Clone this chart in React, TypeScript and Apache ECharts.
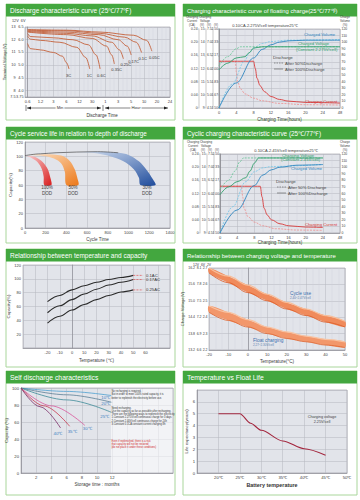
import { useEffect, useRef } from 'react';
import * as echarts from 'echarts';

const FONT = 'Liberation Sans, Arial, sans-serif';

// ---------- titles ----------
const panelTitles = [
  'Discharge characteristic curve (25℃/77℉)',
  'Charging characteristic curve of floating charge(25℃/77℉)',
  'Cycle service life in relation to depth of discharge',
  'Cyclic charging characteristic curve (25℃/77℉)',
  'Relationship between temperature and capacity',
  'Relationship between charging voltage and temperature',
  'Self discharge characteristics',
  'Temperature vs Float Life',
];

// ---------- Panel 1: discharge characteristic ----------
const p1TimeLabels = ['0.6', '1.2', '3', '6', '12', '30', '1', '3', '5', '10', '20', '24'];
const p1VoltTicks = [7.5, 8, 9, 10, 11, 12, 13];
const p1Volt12Labels = ['7.5', '8', '9', '10', '11', '12', '13'];
const p1Volt6Labels = ['3.75', '4.0', '4.5', '5.0', '5.5', '6.0', '6.5'];
const p1RateNames = ['3C', '1C', '0.6C', '0.35C', '0.25C', '0.17C', '0.1C', '0.05C'];
const p1Curve3C = [[0, 11.7], [0.2, 11.3], [1, 11.2], [2, 11.0], [2.7, 10.7], [3.0, 10.2], [3.2, 9.7]];
const p1Curve1C = [[0, 12.3], [0.2, 12.05], [1, 11.95], [2.5, 11.8], [3.8, 11.4], [4.5, 10.6], [4.8, 9.7]];
const p1Curve06C = [[0, 12.5], [0.2, 12.25], [2, 12.15], [3.5, 12.0], [4.7, 11.6], [5.3, 10.8], [5.6, 9.7]];
const p1Curve035C = [[0, 12.6], [3, 12.4], [5, 12.1], [6.1, 11.5], [6.5, 10.8], [6.7, 10.1]];
const p1Curve025C = [[0, 12.65], [3, 12.5], [5, 12.3], [6.5, 11.8], [7.1, 11.2], [7.4, 10.5]];
const p1Curve017C = [[0, 12.7], [3, 12.6], [5.5, 12.4], [7, 12.0], [7.7, 11.5], [8.0, 10.8]];
const p1Curve01C = [[0, 12.75], [3, 12.7], [5.6, 12.5], [7.5, 12.2], [8.4, 11.8], [8.8, 11.0]];
const p1Curve005C = [[0, 12.8], [3, 12.75], [5.6, 12.6], [8.2, 12.35], [9.2, 11.95], [9.6, 11.1]];

// ---------- Panels 2 & 4: charging curves ----------
const chgXLabels = ['0', '4', '8', '12', '16', '20', '24', '48'];
const chgCurrentLabels = ['0', '0.04', '0.08', '0.12', '0.16', '0.20', '0.24'];
const chgVolt12Labels = ['9', '10', '11', '12', '13', '14', '15'];
const chgVolt6Labels = ['4.5', '5.0', '5.5', '6.0', '6.5', '7.0', '7.5'];
const chgVolt2Labels = ['1.50', '1.67', '1.83', '2.00', '2.17', '2.33', '2.50'];

const floatVoltAfter100 = [[0, 11.9], [2, 12.4], [4, 12.8], [6, 12.9], [7, 13.2], [8, 13.55], [10, 13.65], [28, 13.65]];
const floatVoltAfter50 = [[0, 12.2], [2, 12.9], [4, 13.5], [5, 13.65], [28, 13.65]];
const floatVolumeAfter100 = [[0, 0], [4, 38], [8, 76], [10, 89], [12, 96], [14, 100], [16, 102], [20, 103], [28, 103]];
const floatVolumeAfter50 = [[0, 0], [3, 36], [6, 72], [7, 84], [8, 91], [10, 98], [12, 101], [16, 103], [28, 104]];
const floatCurrentAfter100 = [[0, 0.142], [8, 0.142], [8.4, 0.12], [8.8, 0.09], [9.5, 0.068], [10.5, 0.05], [12, 0.035], [14, 0.026], [16, 0.021], [20, 0.017], [28, 0.015]];
const floatCurrentAfter50 = [[0, 0.142], [3.8, 0.142], [4, 0.11], [4.3, 0.08], [5, 0.058], [6, 0.043], [8, 0.03], [10, 0.022], [14, 0.014], [20, 0.01], [28, 0.009]];

const cycVoltAfter100 = [[0, 11.9], [2, 12.5], [4, 12.9], [6, 13.2], [7, 13.7], [8, 14.3], [9, 14.7], [24, 14.7]];
const cycVoltAfter50 = [[0, 12.3], [2, 13.0], [3.5, 13.7], [4.6, 14.4], [5.5, 14.7], [24, 14.7]];
const cycVolumeAfter100 = [[0, 0], [4, 35], [8, 72], [10, 88], [12, 96], [14, 100], [18, 103], [24, 104]];
const cycVolumeAfter50 = [[0, 0], [3, 40], [6, 78], [8, 93], [10, 99], [12, 101], [24, 104]];
const cycCurrentAfter100 = [[0, 0.142], [9.4, 0.142], [9.8, 0.11], [10.3, 0.075], [11, 0.055], [12, 0.04], [14, 0.028], [16, 0.022], [20, 0.018], [24, 0.017]];
const cycCurrentAfter50 = [[0, 0.142], [5, 0.142], [5.3, 0.11], [5.6, 0.075], [6.5, 0.05], [8, 0.033], [10, 0.022], [13, 0.013], [18, 0.009], [24, 0.008]];

// ---------- Panel 3: cycle life ----------
const p3Baseline = [[0, 101], [150, 103.5], [300, 105], [500, 106], [700, 106.5], [900, 105]];
const p3Dod100Outer = [[0, 101], [100, 99], [170, 92], [220, 82], [245, 70], [255, 60]];
const p3Dod100Inner = [[0, 101], [60, 98], [120, 92], [160, 83], [180, 72], [187, 60]];
const p3Dod50Outer = [[20, 102], [200, 103], [350, 101], [430, 94], [480, 82], [505, 70], [515, 60]];
const p3Dod50Inner = [[20, 102], [150, 101], [280, 97], [350, 90], [385, 78], [400, 60]];
const p3Dod30Outer = [[450, 106], [700, 106.5], [900, 105], [1000, 102], [1100, 93], [1180, 80], [1230, 69], [1260, 60]];
const p3Dod30Inner = [[450, 106], [650, 105], [800, 101], [950, 93], [1050, 82], [1100, 70], [1115, 60]];
const p3DodLabels = ['100%\nDOD', '50%\nDOD', '30%\nDOD'];

// ---------- Panel 5: temperature vs capacity ----------
const p5Temps = [-20, -10, 0, 10, 20, 30, 40, 50];
const p5Cap01 = [67, 76, 84, 90, 95, 99, 102, 105];
const p5Cap017 = [51, 61, 70, 78, 85, 91, 95, 99];
const p5Cap025 = [36, 46, 55, 63, 70, 76, 81, 84];
const p5Rates = ['0.1AC', '0.17AC', '0.25AC'];

// ---------- Panel 6: charging voltage vs temperature ----------
const p6Temps = [-20, -10, 0, 10, 20, 30, 40, 50];
const p6CycleUpper = [2.7, 2.65, 2.595, 2.54, 2.49, 2.45, 2.41, 2.375];
const p6CycleLower = [2.67, 2.61, 2.55, 2.5, 2.45, 2.41, 2.37, 2.34];
const p6FloatUpper = [2.47, 2.43, 2.385, 2.34, 2.31, 2.285, 2.265, 2.25];
const p6FloatLower = [2.43, 2.38, 2.34, 2.3, 2.27, 2.25, 2.23, 2.215];
const p6Volt12Labels = ['13.2', '13.8', '14.4', '15.0', '15.6', '16.2'];
const p6Volt6Labels = ['6.6', '6.9', '7.2', '7.5', '7.8', '8.1'];
const p6Volt2Labels = ['2.2', '2.3', '2.4', '2.5', '2.6', '2.7'];

// ---------- Panel 7: self discharge ----------
const p7Labels = ['10℃', '20℃', '25℃', '30℃', '35℃', '40℃'];
const p7At10 = [[0, 100], [6, 96], [12, 91]];
const p7At20 = [[0, 100], [6, 92], [12, 83]];
const p7At25 = [[0, 100], [6, 86], [12, 71]];
const p7At30 = [[0, 100], [4, 79], [8.4, 56]];
const p7At35 = [[0, 100], [3, 79], [6.4, 55]];
const p7At40 = [[0, 100], [2.5, 78], [5.2, 53]];
const p7Note1 = ['No recharging is required.', 'But in order to meet 100% rated capacity, it is', 'better to replenish the electricity before use.'];
const p7Note2 = ['Need recharging.', 'Use the capacity as far as possible after recharging.', 'There are the following ways to replenish the electricity', '1.Constant 2.275V/cell continuous charge for 3 days', '2.Constant 2.40V/cell continuous charge for 24h', '3.Constant 0.1CA constant current charging 8h'];
const p7Note3 = ['Even if replenished, there is a risk', 'that capacity will not be restored', '(do not place it under these conditions)'];

// ---------- Panel 8: float life ----------
const p8Temps = [20, 25, 27.5, 30, 35, 40, 45];
const p8Life = [5, 5, 4.2, 3.6, 2.7, 2.05, 1.5];

const PLOT_BG = '#e2e4ea';
const SPLIT = '#b4b6bf';
const MINOR = '#cfd1d8';
const AXIS = '#85858d';
const TXT = '#3c3c3c';
const GREEN = '#43a73f';
const FRAME = '#a9d69b';

function buildOption() {
  const grid: any[] = [];
  const xAxis: any[] = [];
  const yAxis: any[] = [];
  const series: any[] = [];
  const graphic: any[] = [];
  const ts = (size: number, color = TXT, extra: any = {}) => ({ fontSize: size, color, fontFamily: FONT, ...extra });

  const addGrid = (left: number, top: number, width: number, height: number) => {
    grid.push({ left, top, width, height, show: true, backgroundColor: PLOT_BG, borderColor: AXIS, borderWidth: 0.5 });
    return grid.length - 1;
  };
  const addX = (o: any) => {
    xAxis.push({
      type: 'value',
      axisLine: { show: true, lineStyle: { color: AXIS, width: 0.6 } },
      axisTick: { show: false },
      splitLine: { show: true, lineStyle: { color: SPLIT, width: 0.5 } },
      ...o,
      axisLabel: { fontSize: 4, color: TXT, fontFamily: FONT, margin: 2, formatter: (v: number) => String(v), ...(o.axisLabel || {}) },
    });
    return xAxis.length - 1;
  };
  const addY = (o: any) => {
    yAxis.push({
      type: 'value',
      position: 'left',
      axisLine: { show: true, lineStyle: { color: AXIS, width: 0.6 } },
      axisTick: { show: false },
      splitLine: { show: true, lineStyle: { color: SPLIT, width: 0.5 } },
      ...o,
      axisLabel: { fontSize: 4, color: TXT, fontFamily: FONT, margin: 2, formatter: (v: number) => String(v), ...(o.axisLabel || {}) },
    });
    return yAxis.length - 1;
  };
  const addLine = (xi: number, yi: number, data: any[], color: string, width: number, dashed = false, extra: any = {}) => {
    series.push({
      type: 'line', xAxisIndex: xi, yAxisIndex: yi, data, symbol: 'none', smooth: 0.35, smoothMonotone: 'x',
      lineStyle: { color, width, type: dashed ? [2, 1.2] : 'solid' }, silent: true, z: 3, ...extra,
    });
  };
  const addBand = (xi: number, yi: number, outer: number[][], inner: number[][], fill: any) => {
    series.push({
      type: 'custom', coordinateSystem: 'cartesian2d', xAxisIndex: xi, yAxisIndex: yi, silent: true, z: 2,
      data: [[outer[0][0], outer[0][1]]],
      renderItem: (_p: any, api: any) => ({
        type: 'polygon',
        shape: { points: [...outer, ...inner.slice().reverse()].map((p) => api.coord(p)), smooth: 0.3 },
        style: { fill },
      }),
    });
  };
  const gText = (x: number, y: number, text: string, size: number, color = TXT, extra: any = {}) => {
    graphic.push({
      type: 'text', x, y, z: 50, silent: true,
      style: { text, fontSize: size, fill: color, fontFamily: FONT, align: 'left', textAlign: 'left', verticalAlign: 'middle', textVerticalAlign: 'middle', ...extra },
    });
  };
  const gLine = (x1: number, y1: number, x2: number, y2: number, color: string, width: number, dash?: number[]) => {
    graphic.push({ type: 'line', z: 50, silent: true, shape: { x1, y1, x2, y2 }, style: { stroke: color, lineWidth: width, lineDash: dash } });
  };
  const gPoly = (points: number[][], color: string) => {
    graphic.push({ type: 'polygon', z: 50, silent: true, shape: { points }, style: { fill: color } });
  };

  // ---- panel frames & titles ----
  const frames = [
    [6, 4, 169, 116, 6.5], [183, 4, 174, 116, 5.8],
    [6, 127, 169, 116, 6.3], [183, 127, 174, 116, 6.4],
    [6, 249, 169, 118, 6.5], [183, 249, 174, 118, 6.0],
    [6, 371, 169, 124, 6.8], [183, 371, 174, 124, 6.8],
  ];
  frames.forEach(([x, y, w, h, fs], i) => {
    graphic.push({ type: 'rect', z: -5, silent: true, shape: { x, y, width: w, height: h }, style: { fill: '#fff', stroke: FRAME, lineWidth: 1 } });
    graphic.push({ type: 'rect', z: -4, silent: true, shape: { x, y, width: w, height: 12.5 }, style: { fill: GREEN } });
    gText(x + 4, y + 6.5, panelTitles[i], fs, '#fff');
  });

  // ================= Panel 1 =================
  {
    const g = addGrid(25, 27, 145, 70);
    const xi = addX({
      gridIndex: g, min: -0.2, max: 11, splitNumber: 11,
      minorTick: { show: false, splitNumber: 3 }, minorSplitLine: { show: true, lineStyle: { color: MINOR, width: 0.4 } },
      axisLabel: { fontSize: 4, formatter: (v: number) => (Number.isInteger(v) && v >= 0 ? p1TimeLabels[v] : '') },
    });
    const lbl = (arr: string[]) => (v: number) => {
      const i = p1VoltTicks.indexOf(v);
      return i < 0 ? '' : arr[i];
    };
    const yi = addY({ gridIndex: g, min: 7.5, max: 13, splitNumber: 5, axisLabel: { fontSize: 3.8, margin: 1.5, formatter: lbl(p1Volt6Labels) } });
    addY({
      gridIndex: g, min: 7.5, max: 13, splitNumber: 5, offset: 8, axisLine: { show: false }, splitLine: { show: false },
      axisLabel: { fontSize: 3.8, margin: 1.5, formatter: lbl(p1Volt12Labels) },
      name: 'Terminal Voltage(V)', nameLocation: 'middle', nameRotate: 90, nameGap: 9, nameTextStyle: ts(4.2),
    });
    const curves = [p1Curve3C, p1Curve1C, p1Curve06C, p1Curve035C, p1Curve025C, p1Curve017C, p1Curve01C, p1Curve005C];
    curves.forEach((c, i) => {
      addLine(xi, yi, c, '#c4623c', 0.9, false, {
        name: p1RateNames[i],
        endLabel: { show: true, formatter: '{a}', distance: 0, offset: [-3, 6], ...ts(4, '#333') },
      });
    });
    gText(12, 21, '12V  6V', 3.8);
    // time arrows
    gLine(26, 105, 26, 111, '#333', 0.6);
    gLine(27, 108, 101, 108, '#333', 0.6);
    gPoly([[27, 108], [31, 106.4], [31, 109.6]], '#222');
    gPoly([[101, 108], [97, 106.4], [97, 109.6]], '#222');
    gLine(103, 105, 103, 111, '#333', 0.6);
    gLine(105, 108, 168, 108, '#333', 0.6);
    gPoly([[105, 108], [109, 106.4], [109, 109.6]], '#222');
    gPoly([[168, 108], [164, 106.4], [164, 109.6]], '#222');
    gText(60, 107, 'Min', 4.2, '#333', { align: 'center', textAlign: 'center', backgroundColor: '#fff', padding: [0, 1] });
    gText(136, 107, 'Hour', 4.2, '#333', { align: 'center', textAlign: 'center', backgroundColor: '#fff', padding: [0, 1] });
    gText(102, 115, 'Discharge Time', 4.5, '#333', { align: 'center', textAlign: 'center' });
  }

  // ================= Panels 2 & 4 =================
  const VOLT = '#2f9e6a', VOLT_D = '#62c493';
  const VOLUME = '#2f86c0', VOLUME_D = '#72c6e8';
  const CURR = '#d83a3a', CURR_D = '#ee8e8e';
  const buildCharging = (gx: number, gy: number, gw: number, gh: number, d: any) => {
    const g = addGrid(gx, gy, gw, gh);
    const xi = addX({
      gridIndex: g, min: 0, max: 28, interval: 4,
      minorTick: { show: false, splitNumber: 2 }, minorSplitLine: { show: true, lineStyle: { color: MINOR, width: 0.4 } },
      axisLabel: { fontSize: 4, formatter: (v: number) => chgXLabels[Math.round(v / 4)] ?? '' },
      name: 'Charging Time(hours)', nameLocation: 'middle', nameGap: d.nameGap, nameTextStyle: ts(4.6),
    });
    const yPct = addY({ gridIndex: g, position: 'right', min: 0, max: 120, interval: 10, axisLabel: { fontSize: 3.4, margin: 1.5 } });
    const yVolt = addY({ gridIndex: g, show: false, min: 9, max: 15, splitLine: { show: false } });
    const yCur = addY({ gridIndex: g, show: false, min: 0, max: 0.24, splitLine: { show: false } });
    const cols = [chgVolt2Labels, chgVolt6Labels, chgVolt12Labels, chgCurrentLabels];
    const offs = [0, 6.5, 13.5, 20.5];
    cols.forEach((arr, i) => {
      addY({
        gridIndex: g, offset: offs[i], min: 0, max: 6, interval: 1, splitLine: { show: false },
        axisLine: { show: true, lineStyle: { color: '#777', width: 0.4 } },
        axisTick: { show: true, length: 1, lineStyle: { color: '#777', width: 0.4 } },
        axisLabel: { fontSize: 3.3, margin: 1, formatter: (v: number) => arr[v] ?? '' },
      });
    });
    addLine(xi, yCur, d.curD, CURR_D, 0.8, true);
    addLine(xi, yCur, d.cur, CURR, 0.9);
    addLine(xi, yPct, d.volD, VOLUME_D, 0.8, true);
    addLine(xi, yPct, d.vol, VOLUME, 0.9);
    addLine(xi, yVolt, d.voltD, VOLT_D, 0.8, true);
    addLine(xi, yVolt, d.volt, VOLT, 0.9);

    const top = gy - 12; // header row
    gText(gx - 27, top, 'Charging', 3, TXT, { align: 'center', textAlign: 'center' });
    gText(gx - 27, top + 3.5, 'Current', 3, TXT, { align: 'center', textAlign: 'center' });
    gText(gx - 27, top + 7.5, '(CA)', 3, TXT, { align: 'center', textAlign: 'center' });
    gText(gx - 14, top, 'Charging', 3, TXT, { align: 'center', textAlign: 'center' });
    gText(gx - 14, top + 3.5, 'Voltage', 3, TXT, { align: 'center', textAlign: 'center' });
    gText(gx - 17, top + 7.5, '(V)', 3, TXT, { align: 'center', textAlign: 'center' });
    gText(gx - 10, top + 7.5, '(V)', 3, TXT, { align: 'center', textAlign: 'center' });
    gText(gx - 3, top + 7.5, '(V)', 3, TXT, { align: 'center', textAlign: 'center' });
    gText(gx + gw + 5, top, 'Charge', 3, TXT, { align: 'center', textAlign: 'center' });
    gText(gx + gw + 5, top + 3.5, 'Volume', 3, TXT, { align: 'center', textAlign: 'center' });
    gText(gx + gw + 5, top + 7.5, '(%)', 3, TXT, { align: 'center', textAlign: 'center' });
    gText(d.headX, gy - 3.5, d.header, 4, TXT, { align: 'center', textAlign: 'center' });
    d.texts.forEach((t: any) => gText(t[0], t[1], t[2], 4.2, t[3]));
    const [lx, ly] = d.legend;
    gText(lx, ly, 'Discharge', 4.4, '#444');
    gLine(lx + 1, ly + 6, lx + 10, ly + 6, '#555', 0.6, [1.5, 1]);
    gText(lx + 12, ly + 6, d.leg50, 4.2, '#444');
    gLine(lx + 1, ly + 12, lx + 10, ly + 12, '#555', 0.6);
    gText(lx + 12, ly + 12, 'After 100%Discharge', 4.2, '#444');
  };

  buildCharging(219, 29, 121, 79, {
    nameGap: 8.5, headX: 265, header: '0.10CA-2.275V/cell temperature25℃',
    volt: floatVoltAfter100, voltD: floatVoltAfter50, vol: floatVolumeAfter100, volD: floatVolumeAfter50,
    cur: floatCurrentAfter100, curD: floatCurrentAfter50,
    texts: [[304, 34, 'Charged Volume', VOLUME], [298, 43.5, 'Charged Voltage', VOLT], [296, 49, '(Constant 2.275V/cell)', VOLT], [305, 101, 'Charging Current', CURR]],
    legend: [273, 57], leg50: 'After 50%Discharge',
  });
  buildCharging(220, 154, 120, 79, {
    nameGap: 6.5, headX: 286, header: '0.10CA-2.45V/cell temperature25℃',
    volt: cycVoltAfter100, voltD: cycVoltAfter50, vol: cycVolumeAfter100, volD: cycVolumeAfter50,
    cur: cycCurrentAfter100, curD: cycCurrentAfter50,
    texts: [[282, 155, 'Charging Voltage', VOLT], [281, 159.5, '(Constant 2.45V/cell)', VOLT], [291, 168, 'Charged Volume', VOLUME], [305, 224, 'Charging Current', CURR]],
    legend: [276, 181], leg50: 'After 50% Discharge',
  });

  // ================= Panel 3 =================
  {
    const g = addGrid(25, 142, 145, 86);
    const xi = addX({ gridIndex: g, min: 0, max: 1400, interval: 200, name: 'Cycle Time', nameLocation: 'middle', nameGap: 8.5, nameTextStyle: ts(4.6) });
    const yi = addY({ gridIndex: g, min: 0, max: 120, interval: 20, name: 'Capacity(%)', nameLocation: 'middle', nameRotate: 90, nameGap: 11, nameTextStyle: ts(4.4) });
    const grad = (a: string, b: string) => new echarts.graphic.LinearGradient(0, 0, 1, 1, [{ offset: 0, color: a }, { offset: 1, color: b }]);
    addBand(xi, yi, p3Dod30Outer, p3Dod30Inner, grad('#dbe6f5', '#1f4c9c'));
    addBand(xi, yi, p3Dod50Outer, p3Dod50Inner, grad('#fde4c8', '#ec7818'));
    addBand(xi, yi, p3Dod100Outer, p3Dod100Inner, grad('#fbd3d3', '#d81c1c'));
    addLine(xi, yi, p3Baseline, '#333', 0.6);
    gText(47, 190, p3DodLabels[0], 4.6, '#444', { align: 'center', textAlign: 'center', lineHeight: 6 });
    gText(73, 190, p3DodLabels[1], 4.6, '#444', { align: 'center', textAlign: 'center', lineHeight: 6 });
    gText(147, 190, p3DodLabels[2], 4.6, '#444', { align: 'center', textAlign: 'center', lineHeight: 6 });
  }

  // ================= Panel 5 =================
  {
    const g = addGrid(23, 265, 147, 83);
    const xi = addX({
      gridIndex: g, min: -40, max: 80, interval: 10,
      axisLabel: { fontSize: 4, formatter: (v: number) => (v >= -20 && v <= 60 ? String(v) : '') },
      name: 'Temperature (℃)', nameLocation: 'middle', nameGap: 9.5, nameTextStyle: ts(4.6),
    });
    const yi = addY({
      gridIndex: g, min: 0, max: 120, interval: 20, axisLabel: { fontSize: 4, formatter: (v: number) => (v === 0 ? '' : String(v)) },
      name: 'Capacity(%)', nameLocation: 'middle', nameRotate: 90, nameGap: 10, nameTextStyle: ts(4.4),
    });
    [p5Cap01, p5Cap017, p5Cap025].forEach((arr, i) => {
      addLine(xi, yi, p5Temps.map((t, k) => [t, arr[k]]), '#2a2a2a', 1.1);
      const last = arr[arr.length - 1];
      addLine(xi, yi, [[50, last], [58, last]], '#e05050', 0.7, true, {
        smooth: false, name: p5Rates[i],
        endLabel: { show: true, formatter: '{a}', distance: 0, offset: [3, 0], ...ts(4.2, '#333') },
      });
    });
  }

  // ================= Panel 6 =================
  {
    const g = addGrid(209, 268, 136, 82);
    const xi = addX({
      gridIndex: g, min: -20, max: 50, interval: 10,
      minorTick: { show: false, splitNumber: 3 }, minorSplitLine: { show: true, lineStyle: { color: MINOR, width: 0.4 } },
      name: 'Temperature(°C)', nameLocation: 'middle', nameGap: 9, nameTextStyle: ts(4.6),
    });
    const yi = addY({
      gridIndex: g, min: 2.2, max: 2.7, interval: 0.1,
      axisLabel: { fontSize: 3.5, margin: 1.5, formatter: (v: number) => p6Volt2Labels[Math.round((v - 2.2) * 10)] ?? '' },
    });
    addY({
      gridIndex: g, min: 0, max: 5, interval: 1, offset: 6, axisLine: { show: false }, splitLine: { show: false },
      axisLabel: { fontSize: 3.5, margin: 1.5, formatter: (v: number) => p6Volt6Labels[v] ?? '' },
    });
    addY({
      gridIndex: g, min: 0, max: 5, interval: 1, offset: 12.5, axisLine: { show: false }, splitLine: { show: false },
      axisLabel: { fontSize: 3.5, margin: 1.5, formatter: (v: number) => p6Volt12Labels[v] ?? '' },
      name: 'Charge Voltage(V)', nameLocation: 'middle', nameRotate: 90, nameGap: 9, nameTextStyle: ts(4.2),
    });
    const zip = (vals: number[]) => p6Temps.map((t, k) => [t, vals[k]]);
    addBand(xi, yi, zip(p6CycleUpper), zip(p6CycleLower), '#f08b5c');
    addBand(xi, yi, zip(p6FloatUpper), zip(p6FloatLower), '#f2976b');
    addLine(xi, yi, zip(p6CycleUpper), '#f8bd98', 1.2);
    addLine(xi, yi, zip(p6CycleLower), '#dc5a26', 0.8);
    addLine(xi, yi, zip(p6FloatUpper), '#f8c3a2', 1.2);
    addLine(xi, yi, zip(p6FloatLower), '#de6430', 0.8);
    gText(193, 265, '12V  6V  2V', 3.4);
    gText(290, 293, 'Cycle use', 4.8, '#3a6fae');
    gText(290, 298, '2.40~2.47V/cell', 3, '#5a80b0');
    gText(253, 340, 'Float charging', 4.8, '#3a6fae');
    gText(253, 344.5, '2.27~2.30V/cell', 3, '#5a80b0');
  }

  // ================= Panel 7 =================
  {
    const g = addGrid(21, 388, 152, 85);
    const xi = addX({
      gridIndex: g, min: 0, max: 20, interval: 2,
      axisLabel: { fontSize: 4.2, formatter: (v: number) => (v > 0 && v <= 12 ? String(v) : '') },
      name: 'Storage time : months', nameLocation: 'middle', nameGap: 9, nameTextStyle: ts(4.6),
    });
    const yi = addY({
      gridIndex: g, min: 0, max: 100, interval: 20, axisLabel: { fontSize: 4.2 },
      name: 'Capacity (%)', nameLocation: 'middle', nameRotate: 90, nameGap: 9, nameTextStyle: ts(4.4),
    });
    const lines = [p7At10, p7At20, p7At25, p7At30, p7At35, p7At40];
    const colors = ['#4d9fd0', '#5a7f95', '#3e8a98', '#d9559a', '#c8364e', '#7d2f6a'];
    const offsets = [[-11, 1.5], [-11, 1], [-12, 4], [-2, 3], [-2, 5.5], [-7, 6]];
    lines.forEach((l, i) => {
      addLine(xi, yi, l, colors[i], 0.8, false, {
        name: p7Labels[i],
        endLabel: { show: true, formatter: '{a}', distance: 0, offset: offsets[i], ...ts(4.4, '#3f7fbf') },
      });
    });
    graphic.push({ type: 'rect', z: 40, silent: true, shape: { x: 111, y: 389, width: 61.5, height: 83.5 }, style: { fill: 'rgba(255,255,255,0.55)' } });
    p7Note1.forEach((s, i) => gText(111.5, 391.5 + i * 3.3, s, 2.6, '#333'));
    p7Note2.forEach((s, i) => gText(111.5, 408 + i * 3.3, s, 2.6, '#333'));
    p7Note3.forEach((s, i) => gText(111.5, 441 + i * 3.3, s, 2.6, '#d02828'));
  }

  // ================= Panel 8 =================
  {
    const g = addGrid(197, 390, 150, 83);
    const xi = addX({
      gridIndex: g, min: 15, max: 50, interval: 5,
      axisLabel: { fontSize: 4.2, formatter: (v: number) => (v === 15 ? '' : `${v}℃`) },
      name: 'Battery temperature', nameLocation: 'middle', nameGap: 9, nameTextStyle: ts(5.4, '#333', { fontWeight: 'bold' }),
    });
    const yi = addY({
      gridIndex: g, min: 0, max: 7, interval: 1, axisLabel: { fontSize: 4.2, formatter: (v: number) => (v === 7 ? '' : String(v)) },
      name: 'Life expectancy(years)', nameLocation: 'middle', nameRotate: 90, nameGap: 7, nameTextStyle: ts(4.4),
    });
    addLine(xi, yi, p8Temps.map((t, k) => [t, p8Life[k]]), '#a3263e', 1.1, false, { smooth: 0.3 });
    gText(322, 417, 'Charging voltage', 3.8, '#444', { align: 'center', textAlign: 'center' });
    gText(322, 422, '2.25V/cell', 3.8, '#444', { align: 'center', textAlign: 'center' });
  }

  return {
    animation: false, backgroundColor: '#ffffff', textStyle: { fontFamily: FONT },
    grid, xAxis, yAxis, series, graphic: { elements: graphic },
  };
}

export default function App() {
  const ref = useRef<HTMLDivElement>(null);
  useEffect(() => {
    if (!ref.current) return;
    const chart = echarts.init(ref.current, undefined, { renderer: 'svg' });
    chart.setOption(buildOption() as any);
    return () => chart.dispose();
  }, []);
  return <div ref={ref} style={{ position: 'absolute', left: 0, top: 0, width: 360, height: 500 }} />;
}
